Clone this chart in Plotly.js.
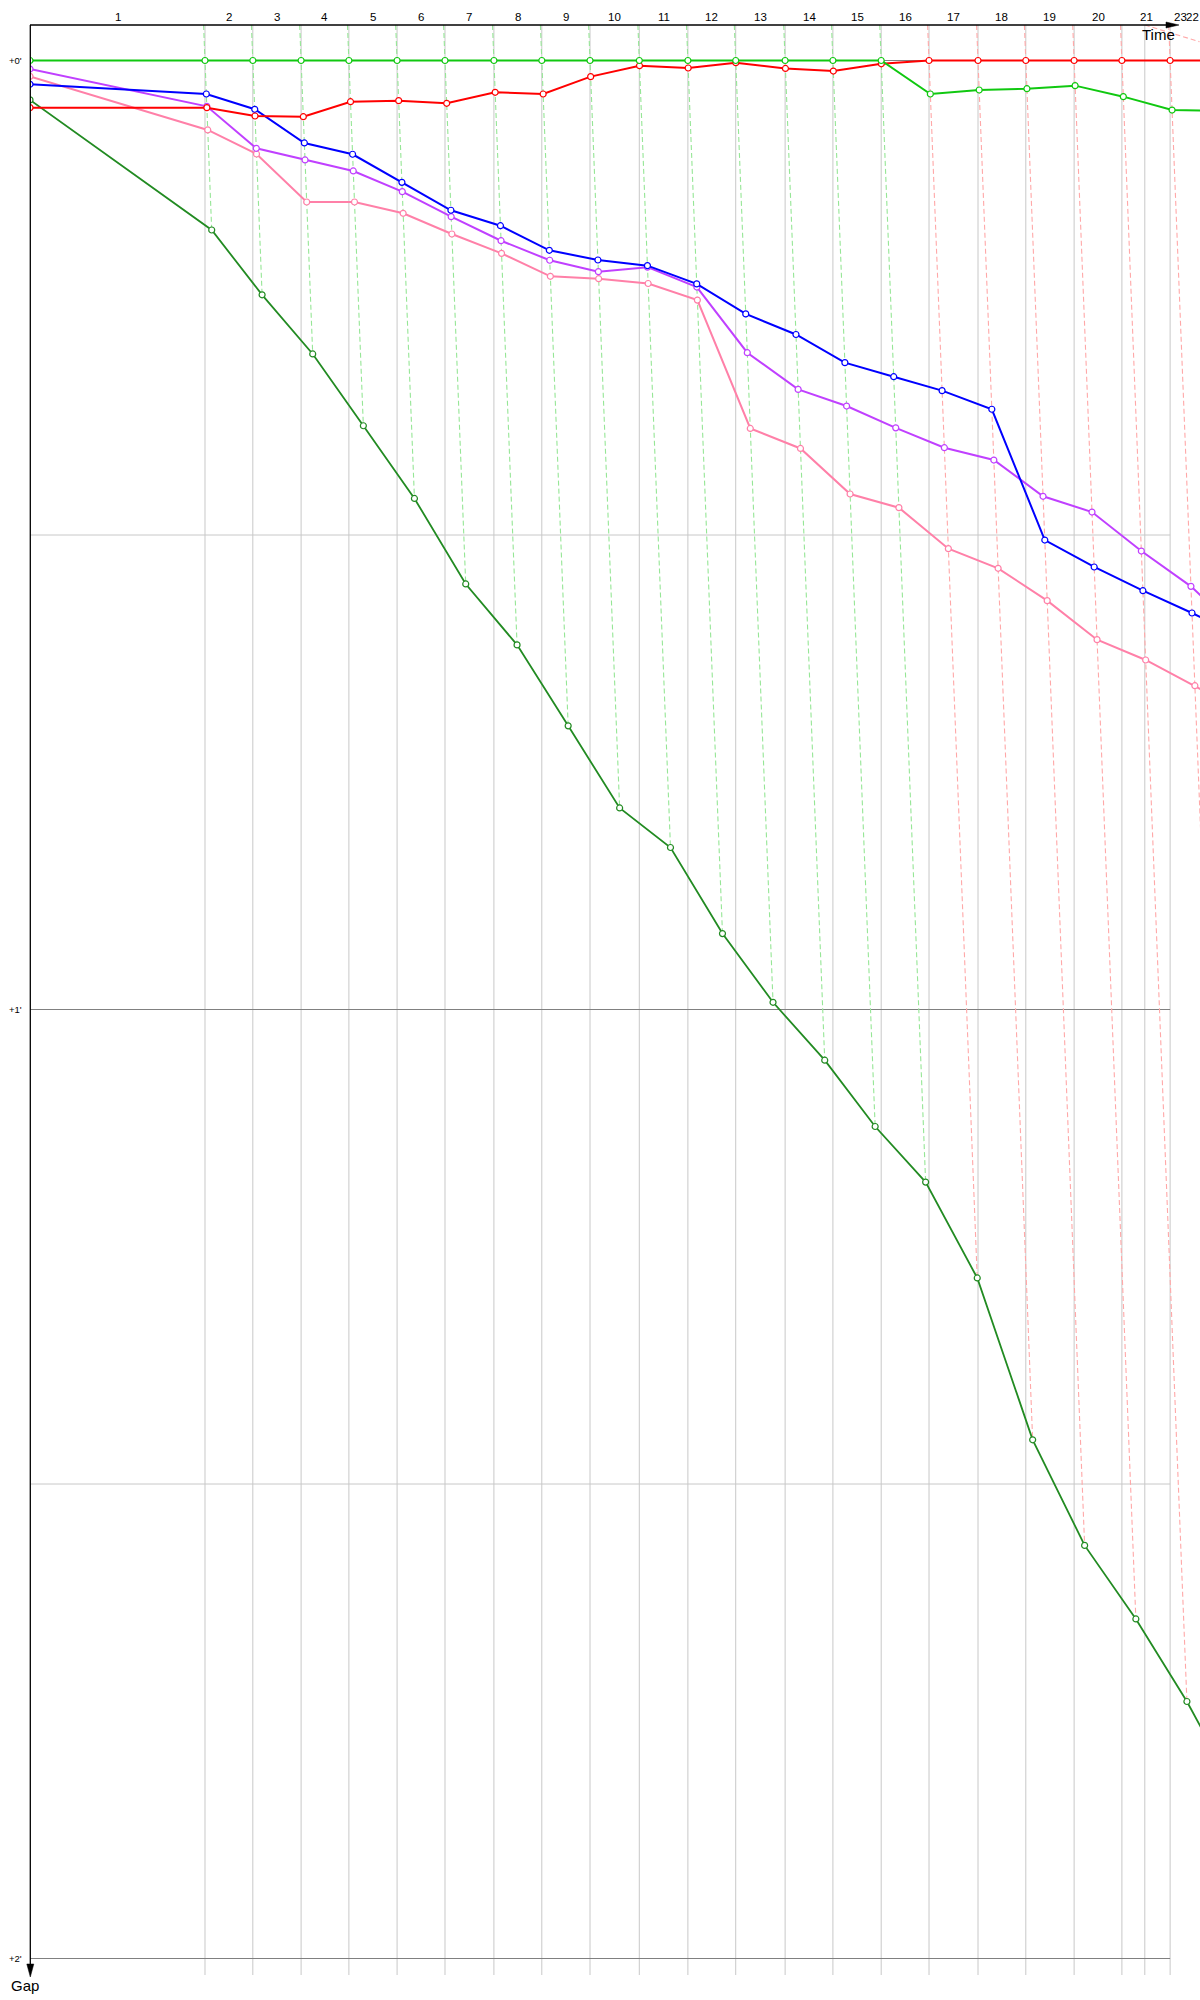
<!DOCTYPE html>
<html>
<head>
<meta charset="utf-8">
<script src="https://cdn.plot.ly/plotly-3.0.1.min.js"></script>
<style>
  html, body { margin: 0; padding: 0; background: #fff; }
  #chart { width: 1200px; height: 2000px; }
</style>
</head>
<body>
<div id="chart"></div>
<script>
// Leader's race time (minutes) at the end of laps 1..22
var lapEnd = [4.654, 5.926, 7.210, 8.481, 9.763, 11.037, 12.338, 13.612, 14.894, 16.205,
              17.497, 18.769, 20.083, 21.354, 22.638, 23.910, 25.213, 26.484, 27.769, 29.040,
              30.322, 31.520];
var extraLine = 29.649;          // odd extra grey line near the end
var extraDashX = [29.649, 31.104];
var extraDashY = [-0.0374, -0.0198];
var lateLabel = "23";
var lateLabelX = 30.60;
var redLeadsFrom = 16;           // lap where red takes the lead
var gapTicks = [0, 1, 2];
var gapTickLabels = ["+0'", "+1'", "+2'"];
var halfTicks = [0.5, 1.5];

// Gap to leader (minutes), index = lap 0..n
var gapGreen = [0, 0, 0, 0, 0, 0, 0, 0, 0, 0, 0, 0, 0, 0, 0, 0,
                0.0353, 0.0311, 0.0297, 0.0265, 0.0381, 0.0522, 0.0530];
var gapRed = [0.0497, 0.0497, 0.0585, 0.0592, 0.0434, 0.0423, 0.0451, 0.0335, 0.0353, 0.0170,
              0.0055, 0.0079, 0.0023, 0.0084, 0.0111, 0.0035, 0, 0, 0, 0, 0, 0, 0];
var gapBlue = [0.0251, 0.0353, 0.0514, 0.0869, 0.0988, 0.1284, 0.1578, 0.1741, 0.2000, 0.2102,
               0.2162, 0.2354, 0.2670, 0.2887, 0.3184, 0.3332, 0.3479, 0.3675, 0.5053, 0.5337,
               0.5587, 0.5822, 0.6050];
var gapPurple = [0.0090, 0.0483, 0.0925, 0.1048, 0.1164, 0.1382, 0.1646, 0.1899, 0.2105, 0.2225,
                 0.2178, 0.2387, 0.3079, 0.3466, 0.3641, 0.3871, 0.4080, 0.4210, 0.4592, 0.4758,
                 0.5169, 0.5541, 0.6000];
var gapPink = [0.0167, 0.0732, 0.0985, 0.1491, 0.1491, 0.1610, 0.1828, 0.2032, 0.2274, 0.2299,
               0.2350, 0.2525, 0.3877, 0.4088, 0.4568, 0.4712, 0.5144, 0.5351, 0.5692, 0.6103,
               0.6317, 0.6588, 0.6850];
var gapDark = [0.0415, 0.1786, 0.2469, 0.3092, 0.3849, 0.4615, 0.5516, 0.6158, 0.7011, 0.7876,
               0.8293, 0.9200, 0.9924, 1.0534, 1.1233, 1.1819, 1.2829, 1.4534, 1.5647, 1.6422,
               1.7292, 1.8300];

var cars = [
  { gaps: gapDark,   color: "#228b22", width: 1.8 },
  { gaps: gapPink,   color: "#ff80a8", width: 2 },
  { gaps: gapPurple, color: "#c040ff", width: 2 },
  { gaps: gapBlue,   color: "#0000ff", width: 2 },
  { gaps: gapRed,    color: "#ff0000", width: 2 },
  { gaps: gapGreen,  color: "#10c810", width: 2 }
];

// page geometry
var W = 1200, H = 2000, ML = 30, MT = 25, MB = 25;
var plotW = W - ML, plotH = H - MT - MB;
var pxPerMinX = 37.6, pxPerMinY = 949, zeroBelowTop = 35.5;
var gapTop = -zeroBelowTop / pxPerMinY;
var gapBottom = (plotH - zeroBelowTop) / pxPerMinY;

function paperX(px) { return (px - ML) / plotW; }
function paperY(py) { return (H - MB - py) / plotH; }

// Car's own time at end of lap n = leader time + gap; lap 0 is the start
function carTime(gaps, n) { return n === 0 ? 0 : lapEnd[n - 1] + gaps[n]; }

var traces = [];

// dashed lines joining each lap's points
var dashG = { x: [], y: [] }, dashR = { x: [], y: [] };
for (var n = 1; n <= lapEnd.length; n++) {
  var deepest = 0;
  cars.forEach(function (c) {
    if (c.gaps[n] !== undefined && c.gaps[n] > deepest) deepest = c.gaps[n];
  });
  var d = n < redLeadsFrom ? dashG : dashR;
  d.x.push(lapEnd[n - 1] + gapTop, lapEnd[n - 1] + deepest, null);
  d.y.push(gapTop, deepest, null);
}
traces.push({ x: dashG.x, y: dashG.y, mode: "lines", hoverinfo: "skip",
  line: { color: "#96e696", width: 1.1, dash: "5px,3px" } });
traces.push({ x: dashR.x, y: dashR.y, mode: "lines", hoverinfo: "skip",
  line: { color: "#ffa8a8", width: 1.1, dash: "5px,3px" } });
traces.push({ x: extraDashX, y: extraDashY, mode: "lines", hoverinfo: "skip",
  line: { color: "#ffa8a8", width: 1.1, dash: "5px,3px" } });

cars.forEach(function (c) {
  var xs = [], ys = [];
  for (var i = 0; i < c.gaps.length; i++) {
    xs.push(carTime(c.gaps, i));
    ys.push(c.gaps[i]);
  }
  traces.push({
    x: xs, y: ys, mode: "lines+markers", hoverinfo: "skip",
    line: { color: c.color, width: c.width },
    marker: { symbol: "circle", size: 6, color: "#ffffff", line: { color: c.color, width: 1.2 } }
  });
});

var shapes = [];
// horizontal gap grid
halfTicks.forEach(function (g) {
  shapes.push({ type: "line", layer: "below", xref: "x", yref: "y", x0: 0, x1: lapEnd[20], y0: g, y1: g,
    line: { color: "#c8c8c8", width: 1 } });
});
gapTicks.forEach(function (g) {
  shapes.push({ type: "line", layer: "below", xref: "x", yref: "y", x0: 0, x1: lapEnd[20], y0: g, y1: g,
    line: { color: "#808080", width: 1 } });
});
// vertical lap lines
lapEnd.slice(0, 21).concat([extraLine]).forEach(function (t) {
  shapes.push({ type: "line", layer: "below", xref: "x", yref: "paper", x0: t, x1: t, y0: 0, y1: 1,
    line: { color: "#c8c8c8", width: 1 } });
});
// axes with arrowheads
shapes.push({ type: "line", xref: "paper", yref: "paper", x0: paperX(30), x1: paperX(1168),
  y0: paperY(25), y1: paperY(25), line: { color: "#000", width: 1.3 } });
shapes.push({ type: "path", xref: "paper", yref: "paper", fillcolor: "#000", line: { color: "#000", width: 0.5 },
  path: "M" + paperX(1166) + "," + paperY(22) + " L" + paperX(1179) + "," + paperY(25) +
        " L" + paperX(1166) + "," + paperY(28) + " Z" });
shapes.push({ type: "line", xref: "paper", yref: "paper", x0: paperX(30.3), x1: paperX(30.3),
  y0: paperY(25), y1: paperY(1966), line: { color: "#000", width: 1.3 } });
shapes.push({ type: "path", xref: "paper", yref: "paper", fillcolor: "#000", line: { color: "#000", width: 0.5 },
  path: "M" + paperX(26.8) + "," + paperY(1964) + " L" + paperX(30.3) + "," + paperY(1977) +
        " L" + paperX(33.8) + "," + paperY(1964) + " Z" });

var annotations = [];
var labelFont = { family: "Liberation Sans, Arial, sans-serif", size: 11.5, color: "#000" };
for (var k = 0; k < lapEnd.length; k++) {
  var prev = k === 0 ? 0 : lapEnd[k - 1];
  annotations.push({ text: String(k + 1), xref: "x", yref: "paper", x: (prev + lapEnd[k]) / 2,
    y: paperY(17.3), showarrow: false, xanchor: "center", yanchor: "middle", font: labelFont });
}
annotations.push({ text: lateLabel, xref: "x", yref: "paper", x: lateLabelX, y: paperY(17.3),
  showarrow: false, xanchor: "center", yanchor: "middle", font: labelFont });
gapTicks.forEach(function (g, i) {
  annotations.push({ text: gapTickLabels[i], xref: "paper", yref: "y", x: paperX(24), y: g,
    showarrow: false, xanchor: "right", yanchor: "middle",
    font: { family: "Liberation Sans, Arial, sans-serif", size: 9.5, color: "#000" } });
});
annotations.push({ text: "Time", xref: "paper", yref: "paper", x: paperX(1177), y: paperY(35),
  showarrow: false, xanchor: "right", yanchor: "middle",
  font: { family: "Liberation Sans, Arial, sans-serif", size: 15, color: "#000" } });
annotations.push({ text: "Gap", xref: "paper", yref: "paper", x: paperX(25), y: paperY(1985),
  showarrow: false, xanchor: "center", yanchor: "middle",
  font: { family: "Liberation Sans, Arial, sans-serif", size: 15, color: "#000" } });

var layout = {
  width: W, height: H,
  margin: { l: ML, r: 0, t: MT, b: MB, pad: 0 },
  paper_bgcolor: "#fff", plot_bgcolor: "#fff",
  showlegend: false,
  xaxis: { range: [0, plotW / pxPerMinX], visible: false, fixedrange: true },
  yaxis: { range: [gapBottom, gapTop], visible: false, fixedrange: true },
  shapes: shapes,
  annotations: annotations
};

Plotly.newPlot("chart", traces, layout, { staticPlot: true, displayModeBar: false });
</script>
</body>
</html>
